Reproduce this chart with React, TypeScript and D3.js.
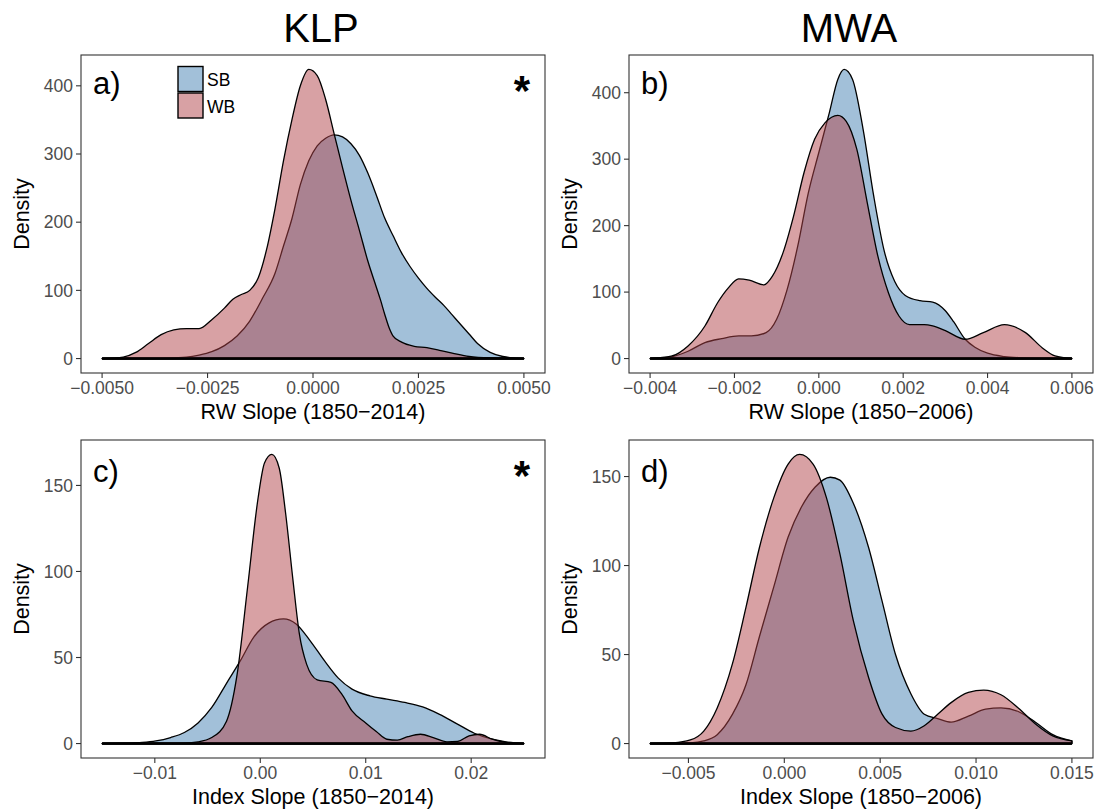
import React from "react";
import * as d3 from "d3";

// ---------- data (density curves) ----------
const SB_A_X = [-0.005, -0.0038, -0.0035, -0.003, -0.0027, -0.0024, -0.0021, -0.0018, -0.0015, -0.0012, -0.0009, -0.0007, -0.0005, -0.0003, -0.0001, 0.0001, 0.0003, 0.0005, 0.0007, 0.0009, 0.0011, 0.0013, 0.0015, 0.0017, 0.0019, 0.0021, 0.0023, 0.0025, 0.0027, 0.0029, 0.0031, 0.0033, 0.0035, 0.0037, 0.0039, 0.0042, 0.0045, 0.005];
const SB_A_Y = [0, 0.2, 0.5, 2, 5, 10, 19, 33, 55, 88, 125, 165, 205, 255, 290, 312, 323, 328, 325, 315, 298, 272, 240, 206, 180, 155, 135, 118, 103, 90, 78, 64, 50, 36, 22, 9, 3, 0];
const WB_A_X = [-0.005, -0.0047, -0.0045, -0.0042, -0.0039, -0.0036, -0.0033, -0.003, -0.0027, -0.0024, -0.0021, -0.0019, -0.0017, -0.0015, -0.0013, -0.0011, -0.0009, -0.0007, -0.0005, -0.0003, -0.0001, 0.0001, 0.0003, 0.0005, 0.0007, 0.0009, 0.0011, 0.0013, 0.0015, 0.0016, 0.0017, 0.0018, 0.0019, 0.0021, 0.0024, 0.0027, 0.003, 0.0033, 0.0037, 0.0042, 0.005];
const WB_A_Y = [0, 0.5, 2, 9, 22, 35, 42, 44, 44, 57, 74, 87, 94, 100, 118, 160, 220, 290, 350, 400, 424, 415, 380, 330, 280, 232, 188, 143, 105, 86, 65, 46, 33, 24, 18, 16, 12, 8, 3, 0.8, 0];

const SB_B_X = [-0.004, -0.0035, -0.0031, -0.0027, -0.0023, -0.0019, -0.0016, -0.00125, -0.001, -0.00075, -0.0005, -0.00025, 0, 0.00025, 0.00045, 0.0006, 0.0008, 0.00105, 0.0013, 0.00155, 0.0018, 0.00205, 0.0024, 0.0027, 0.003, 0.0032, 0.00347, 0.0037, 0.004, 0.0044, 0.0048, 0.0052, 0.006];
const SB_B_Y = [0, 2.5, 11, 24, 30, 34, 34, 39, 59, 104, 169, 249, 310, 370, 420, 435, 420, 345, 245, 162, 116, 95, 87, 85, 72, 55, 29, 17, 8, 3, 1.2, 0.5, 0];
const WB_B_X = [-0.004, -0.0035, -0.0031, -0.0027, -0.0024, -0.00215, -0.0019, -0.00165, -0.0013, -0.0011, -0.00085, -0.0006, -0.00035, -0.0001, 0.00015, 0.00045, 0.00065, 0.0009, 0.00115, 0.0014, 0.00165, 0.0019, 0.00215, 0.0025, 0.0027, 0.003, 0.00347, 0.0039, 0.0044, 0.0049, 0.0053, 0.0056, 0.006];
const WB_B_Y = [0, 3.5, 19, 49, 84, 106, 120, 118, 111, 124, 159, 214, 280, 330, 355, 366, 357, 315, 234, 154, 99, 64, 51, 51, 49, 42, 29, 39, 51, 39, 16, 4, 0];

const SB_C_X = [-0.015, -0.0128, -0.0112, -0.0099, -0.0085, -0.0072, -0.0059, -0.0046, -0.0032, -0.0019, -0.0006, 0.0008, 0.0022, 0.0034, 0.0047, 0.0061, 0.0074, 0.0087, 0.0104, 0.012, 0.0137, 0.0154, 0.017, 0.0187, 0.0203, 0.022, 0.0233, 0.025];
const SB_C_Y = [0, 0.2, 0.6, 1.5, 3.5, 6.4, 12, 21, 35, 48, 62, 70, 72.4, 69.5, 60, 48, 38, 31.6, 27.7, 25.8, 23.9, 21.3, 17, 11.3, 6, 2.5, 1, 0];
const WB_C_X = [-0.015, -0.0079, -0.0059, -0.0046, -0.0032, -0.0022, -0.0012, -0.0002, 0.0004, 0.0011, 0.0018, 0.0024, 0.0031, 0.0037, 0.0044, 0.0054, 0.0067, 0.0077, 0.0087, 0.01, 0.011, 0.012, 0.013, 0.014, 0.0152, 0.0164, 0.0177, 0.0187, 0.0198, 0.0208, 0.022, 0.0233, 0.025];
const WB_C_Y = [0, 0, 1, 3.5, 13, 40, 91, 143, 163, 168, 160, 134, 95, 64, 46, 37, 35.5, 29, 19, 12, 7, 2.5, 2, 4, 5.4, 3.5, 1, 1.2, 4.5, 5.4, 2.5, 0.6, 0];

const SB_D_X = [-0.007, -0.0049, -0.0042, -0.0035, -0.0027, -0.002, -0.0013, -0.00055, 0.0002, 0.0009, 0.0016, 0.0024, 0.0029, 0.0036, 0.0044, 0.0051, 0.0058, 0.0066, 0.0073, 0.008, 0.0087, 0.0096, 0.0105, 0.0113, 0.0122, 0.0131, 0.014, 0.015];
const SB_D_Y = [0, 0.4, 1.5, 5, 16.5, 33, 60, 88, 116, 133, 144, 149.6, 148, 135, 110, 80, 50, 28, 16.5, 14, 12, 15.4, 19.3, 20, 18, 12, 5, 1.5];
const WB_D_X = [-0.007, -0.0058, -0.0049, -0.0042, -0.0035, -0.0027, -0.002, -0.0013, -0.00055, 0.0002, 0.0008, 0.0015, 0.0022, 0.0029, 0.0036, 0.0044, 0.0051, 0.0058, 0.0066, 0.0073, 0.008, 0.0087, 0.0096, 0.0104, 0.0113, 0.0122, 0.0131, 0.014, 0.015];
const WB_D_Y = [0, 0.4, 2, 7, 20, 45, 76.5, 110, 138, 157, 162.4, 157, 138, 106.5, 69, 37, 16.5, 9, 7, 10, 16.5, 23, 28.7, 30, 27.4, 20, 11, 4.3, 1.5];

// ---------- ticks & labels ----------
const X_TICKS_A = [-0.005, -0.0025, 0, 0.0025, 0.005];
const X_LABELS_A = ["\u22120.0050", "\u22120.0025", "0.0000", "0.0025", "0.0050"];
const X_TICKS_B = [-0.004, -0.002, 0, 0.002, 0.004, 0.006];
const X_LABELS_B = ["\u22120.004", "\u22120.002", "0.000", "0.002", "0.004", "0.006"];
const X_TICKS_C = [-0.01, 0, 0.01, 0.02];
const X_LABELS_C = ["\u22120.01", "0.00", "0.01", "0.02"];
const X_TICKS_D = [-0.005, 0, 0.005, 0.01, 0.015];
const X_LABELS_D = ["\u22120.005", "0.000", "0.005", "0.010", "0.015"];
const Y_TICKS_TOP = [0, 100, 200, 300, 400];
const Y_TICKS_BOTTOM = [0, 50, 100, 150];

const SERIES = ["SB", "WB"];
const COLUMN_TITLES = ["KLP", "MWA"];
const X_TITLES = ["RW Slope (1850\u22122014)", "RW Slope (1850\u22122006)", "Index Slope (1850\u22122014)", "Index Slope (1850\u22122006)"];
const TAGS = ["a)", "b)", "c)", "d)"];

// ---------- styling ----------
const FONT = "'Liberation Sans', Arial, Helvetica, sans-serif";
const SB_FILL = "#4682b4";
const WB_FILL = "#b1434a";
const PW = 464;
const PH = 318;

const zip = (xs: number[], ys: number[]) => xs.map((x, i) => [x, ys[i]] as [number, number]);

type PanelProps = {
  left: number; top: number;
  xDomain: [number, number];
  xTicks: number[]; xLabels: string[];
  yTicks: number[];
  sb: [number, number][]; wb: [number, number][];
  xTitle: string; tag: string; star: boolean; legend: boolean;
  tagDy: number;
};

function Panel(p: PanelProps) {
  const span = p.xDomain[1] - p.xDomain[0];
  const xs = d3.scaleLinear().domain([p.xDomain[0] - 0.05 * span, p.xDomain[1] + 0.05 * span]).range([p.left, p.left + PW]);
  const yMax = d3.max([...p.sb, ...p.wb], (d) => d[1]) as number;
  const ys = d3.scaleLinear().domain([-0.05 * yMax, 1.05 * yMax]).range([p.top + PH, p.top]);
  const area = d3.area<[number, number]>()
    .x((d) => xs(d[0]))
    .y0(ys(0))
    .y1((d) => ys(d[1]))
    .curve(d3.curveMonotoneX);
  const bottom = p.top + PH;
  const series = [
    { data: p.sb, fill: SB_FILL },
    { data: p.wb, fill: WB_FILL },
  ];
  return (
    <g>
      {series.map((s, i) => (
        <g key={"s" + i}>
          <path d={area(s.data) || ""} fill={s.fill} fillOpacity={0.5} stroke="#000" strokeWidth={1.3} strokeLinejoin="round" />
          <line x1={xs(s.data[0][0])} x2={xs(s.data[s.data.length - 1][0])} y1={ys(0)} y2={ys(0)} stroke="#000" strokeWidth={2.4} />
        </g>
      ))}
      <rect x={p.left} y={p.top} width={PW} height={PH} fill="none" stroke="#333" strokeWidth={1.1} />
      {p.xTicks.map((t, i) => (
        <g key={"xt" + i}>
          <line x1={xs(t)} x2={xs(t)} y1={bottom} y2={bottom + 5} stroke="#333" strokeWidth={1.1} />
          <text x={xs(t)} y={bottom + 21} textAnchor="middle" fontSize={17.5} fill="#4d4d4d" fontFamily={FONT}>{p.xLabels[i]}</text>
        </g>
      ))}
      {p.yTicks.map((t, i) => (
        <g key={"yt" + i}>
          <line x1={p.left - 5} x2={p.left} y1={ys(t)} y2={ys(t)} stroke="#333" strokeWidth={1.1} />
          <text x={p.left - 8} y={ys(t) + 6.2} textAnchor="end" fontSize={17.5} fill="#4d4d4d" fontFamily={FONT}>{t}</text>
        </g>
      ))}
      <text x={p.left + PW / 2} y={bottom + 46} textAnchor="middle" fontSize={21.5} fill="#000" fontFamily={FONT}>{p.xTitle}</text>
      <text transform={`translate(${p.left - 52},${p.top + PH / 2}) rotate(-90)`} textAnchor="middle" fontSize={21.5} fill="#000" fontFamily={FONT}>Density</text>
      <text x={p.left + 12} y={p.top + p.tagDy} fontSize={31} fill="#000" fontFamily={FONT}>{p.tag}</text>
      {p.star && (
        <text x={p.left + PW - 23} y={p.top + 50} textAnchor="middle" fontSize={42} fontWeight="bold" fill="#000" fontFamily={FONT}>*</text>
      )}
      {p.legend && (
        <g>
          {SERIES.map((s, i) => (
            <g key={s}>
              <rect x={p.left + 97} y={p.top + 11.5 + i * 26.5} width={25} height={25} fill="#fff" stroke="none" />
              <rect x={p.left + 97} y={p.top + 11.5 + i * 26.5} width={25} height={25} fill={i === 0 ? SB_FILL : WB_FILL} fillOpacity={0.5} stroke="#000" strokeWidth={1.4} />
              <text x={p.left + 126} y={p.top + 31 + i * 26.5} fontSize={17.5} fill="#000" fontFamily={FONT}>{s}</text>
            </g>
          ))}
        </g>
      )}
    </g>
  );
}

export default function App() {
  const L1 = 81, L2 = 629, T1 = 55, T2 = 440;
  return (
    <svg width={1099} height={810} style={{ position: "absolute", left: 0, top: 0, background: "#fff" }} xmlns="http://www.w3.org/2000/svg">
      <rect x={0} y={0} width={1099} height={810} fill="#fff" />
      <text x={321} y={41.5} textAnchor="middle" fontSize={40} fill="#000" fontFamily={FONT}>{COLUMN_TITLES[0]}</text>
      <text x={849} y={41.5} textAnchor="middle" fontSize={40} fill="#000" fontFamily={FONT}>{COLUMN_TITLES[1]}</text>
      <Panel left={L1} top={T1} xDomain={[-0.005, 0.005]} xTicks={X_TICKS_A} xLabels={X_LABELS_A} yTicks={Y_TICKS_TOP}
        sb={zip(SB_A_X, SB_A_Y)} wb={zip(WB_A_X, WB_A_Y)} xTitle={X_TITLES[0]} tag={TAGS[0]} star={true} legend={true} tagDy={38.5} />
      <Panel left={L2} top={T1} xDomain={[-0.004, 0.006]} xTicks={X_TICKS_B} xLabels={X_LABELS_B} yTicks={Y_TICKS_TOP}
        sb={zip(SB_B_X, SB_B_Y)} wb={zip(WB_B_X, WB_B_Y)} xTitle={X_TITLES[1]} tag={TAGS[1]} star={false} legend={false} tagDy={38.5} />
      <Panel left={L1} top={T2} xDomain={[-0.015, 0.025]} xTicks={X_TICKS_C} xLabels={X_LABELS_C} yTicks={Y_TICKS_BOTTOM}
        sb={zip(SB_C_X, SB_C_Y)} wb={zip(WB_C_X, WB_C_Y)} xTitle={X_TITLES[2]} tag={TAGS[2]} star={true} legend={false} tagDy={41.5} />
      <Panel left={L2} top={T2} xDomain={[-0.007, 0.015]} xTicks={X_TICKS_D} xLabels={X_LABELS_D} yTicks={Y_TICKS_BOTTOM}
        sb={zip(SB_D_X, SB_D_Y)} wb={zip(WB_D_X, WB_D_Y)} xTitle={X_TITLES[3]} tag={TAGS[3]} star={false} legend={false} tagDy={41.5} />
    </svg>
  );
}
